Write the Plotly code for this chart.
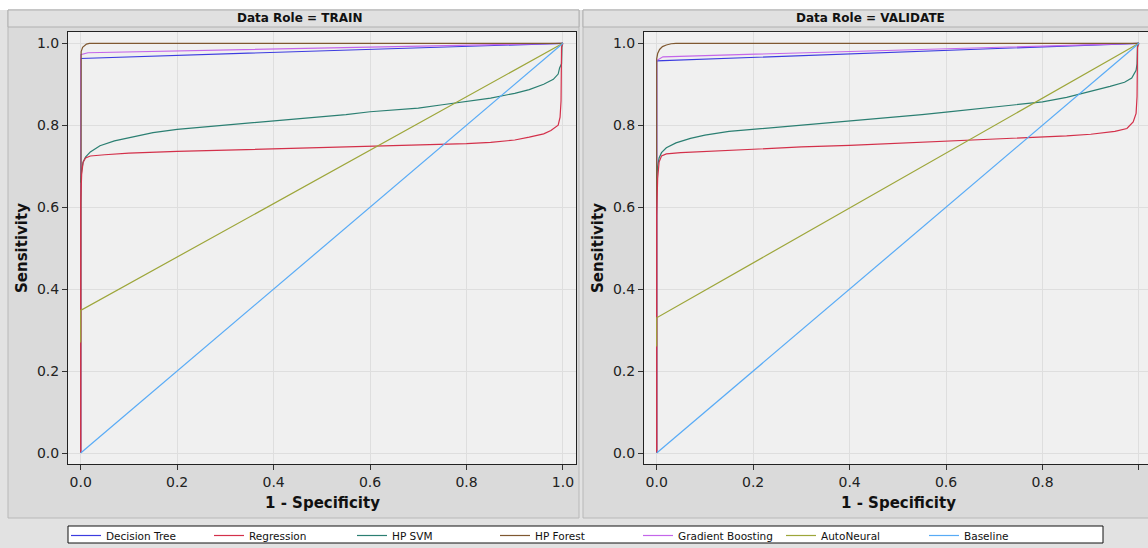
import plotly.graph_objects as go

W, H = 1148, 548

# ---------------- data ----------------
models = ["Decision Tree", "Regression", "HP SVM", "HP Forest",
          "Gradient Boosting", "AutoNeural", "Baseline"]
colors = {"Decision Tree": "#3c3ce0", "Regression": "#d3304a", "HP SVM": "#2b7f72",
          "HP Forest": "#7f5830", "Gradient Boosting": "#c466ea",
          "AutoNeural": "#9da63a", "Baseline": "#58abf6"}
roles = ["TRAIN", "VALIDATE"]

# TRAIN
dt_train_x = [0, 0, 1.0]
dt_train_y = [0, 0.963, 1.0]
reg_train_x = [0, 0, 0, 0.002, 0.005, 0.01, 0.02, 0.05, 0.1, 0.2, 0.3, 0.4, 0.5, 0.6, 0.7,
               0.8, 0.85, 0.9, 0.93, 0.96, 0.975, 0.985, 0.99, 0.994, 0.996, 0.997, 1.0]
reg_train_y = [0, 0.26, 0.61, 0.68, 0.71, 0.72, 0.725, 0.728, 0.732, 0.736, 0.739, 0.742, 0.745,
               0.748, 0.751, 0.755, 0.758, 0.764, 0.771, 0.779, 0.787, 0.795, 0.80, 0.82, 0.86, 0.99, 1.0]
svm_train_x = [0, 0.002, 0.005, 0.01, 0.02, 0.04, 0.07, 0.1, 0.15, 0.2, 0.25, 0.3, 0.35, 0.4, 0.45,
               0.5, 0.55, 0.6, 0.65, 0.7, 0.75, 0.8, 0.85, 0.9, 0.93, 0.96, 0.98, 0.99, 0.993,
               0.997, 0.998, 1.0]
svm_train_y = [0.66, 0.69, 0.71, 0.722, 0.735, 0.75, 0.762, 0.77, 0.782, 0.79, 0.795, 0.80, 0.805,
               0.81, 0.815, 0.82, 0.826, 0.833, 0.838, 0.842, 0.85, 0.858, 0.866, 0.878, 0.887,
               0.90, 0.912, 0.925, 0.94, 0.95, 1.0, 1.0]
rf_train_x = [0, 0, 0.001, 0.004, 0.008, 0.012, 0.018, 1.0]
rf_train_y = [0, 0.965, 0.98, 0.99, 0.995, 0.998, 1.0, 1.0]
gb_train_x = [0, 0, 0.015, 1.0]
gb_train_y = [0, 0.972, 0.977, 1.0]
an_train_x = [0, 0, 1.0]
an_train_y = [0.27, 0.348, 1.0]
base_x = [0, 1.0]
base_y = [0, 1.0]

# VALIDATE
dt_val_x = [0, 0, 1.0]
dt_val_y = [0, 0.957, 1.0]
reg_val_x = [0, 0, 0, 0.002, 0.005, 0.01, 0.02, 0.05, 0.1, 0.2, 0.3, 0.4, 0.5, 0.6, 0.7, 0.8,
             0.85, 0.9, 0.95, 0.975, 0.988, 0.994, 0.996, 0.997, 1.0]
reg_val_y = [0, 0.26, 0.58, 0.67, 0.71, 0.725, 0.73, 0.733, 0.736, 0.742, 0.747, 0.751, 0.756,
             0.76, 0.765, 0.771, 0.774, 0.778, 0.785, 0.792, 0.808, 0.829, 0.87, 0.99, 1.0]
svm_val_x = [0, 0.002, 0.005, 0.01, 0.02, 0.04, 0.07, 0.1, 0.15, 0.2, 0.25, 0.3, 0.35, 0.4, 0.45,
             0.5, 0.55, 0.6, 0.65, 0.7, 0.75, 0.8, 0.85, 0.9, 0.94, 0.97, 0.985, 0.994, 0.996,
             0.997, 1.0]
svm_val_y = [0.67, 0.70, 0.72, 0.733, 0.745, 0.757, 0.768, 0.776, 0.785, 0.79, 0.795, 0.80, 0.805,
             0.81, 0.815, 0.82, 0.826, 0.832, 0.838, 0.845, 0.85, 0.857, 0.868, 0.882, 0.895,
             0.905, 0.915, 0.934, 0.95, 1.0, 1.0]
rf_val_x = [0, 0, 0.002, 0.006, 0.012, 0.02, 0.03, 0.04, 1.0]
rf_val_y = [0, 0.962, 0.975, 0.985, 0.992, 0.996, 0.999, 1.0, 1.0]
gb_val_x = [0, 0, 0.013, 1.0]
gb_val_y = [0, 0.958, 0.967, 1.0]
an_val_x = [0, 0, 1.0]
an_val_y = [0.26, 0.33, 1.0]

series = {
    "TRAIN": {"Decision Tree": (dt_train_x, dt_train_y), "Regression": (reg_train_x, reg_train_y),
              "HP SVM": (svm_train_x, svm_train_y), "HP Forest": (rf_train_x, rf_train_y),
              "Gradient Boosting": (gb_train_x, gb_train_y), "AutoNeural": (an_train_x, an_train_y),
              "Baseline": (base_x, base_y)},
    "VALIDATE": {"Decision Tree": (dt_val_x, dt_val_y), "Regression": (reg_val_x, reg_val_y),
                 "HP SVM": (svm_val_x, svm_val_y), "HP Forest": (rf_val_x, rf_val_y),
                 "Gradient Boosting": (gb_val_x, gb_val_y), "AutoNeural": (an_val_x, an_val_y),
                 "Baseline": (base_x, base_y)},
}
draw_order = ["Decision Tree", "Gradient Boosting", "HP SVM", "HP Forest",
              "Regression", "AutoNeural", "Baseline"]
tick_vals = [0, 0.2, 0.4, 0.6, 0.8, 1.0]

FONT = "DejaVu Sans"
fig = go.Figure()
for i, role in enumerate(roles):
    ax = "" if i == 0 else "2"
    for m in draw_order:
        xs, ys = series[role][m]
        fig.add_trace(go.Scatter(
            x=xs, y=ys, mode="lines", name=m, legendgroup=m,
            legendrank=models.index(m) + 1, showlegend=(i == 0),
            line=dict(color=colors[m], width=1.2),
            xaxis="x" + ax, yaxis="y" + ax, hoverinfo="skip"))


def px(v):
    return v / W


def py(v):
    return 1 - v / H


axis_common = dict(tickvals=tick_vals, tickformat=".1f", ticks="outside", ticklen=5,
                   tickcolor="#333", showline=True, linecolor="#222", linewidth=1,
                   showgrid=True, gridcolor="#dedede", gridwidth=1, zeroline=False,
                   tickfont=dict(family=FONT, size=14, color="#222"))

fig.update_layout(
    width=W, height=H,
    margin=dict(l=0, r=0, t=0, b=0, autoexpand=False),
    paper_bgcolor="#e2e2e2", plot_bgcolor="#f0f0f0",
    font=dict(family=FONT, color="#111"),
    xaxis=dict(domain=[px(68), px(576)], range=[-0.0263, 1.027], anchor="y", mirror=True,
               **axis_common),
    yaxis=dict(domain=[py(464), py(32)], range=[-0.0268, 1.0276], anchor="x", mirror=True,
               **axis_common),
    xaxis2=dict(domain=[px(644), 1.0], range=[-0.0263, 1.0187], anchor="y2", mirror=True,
                **axis_common),
    yaxis2=dict(domain=[py(464), py(32)], range=[-0.0268, 1.0276], anchor="x2", mirror=False,
                **axis_common),
    legend=dict(orientation="h", x=px(66), y=py(521), xanchor="left", yanchor="top",
                bgcolor="rgba(0,0,0,0)", borderwidth=0,
                font=dict(family=FONT, size=10.5, color="#111"),
                entrywidth=98, entrywidthmode="pixels", traceorder="normal",
                itemwidth=30, tracegroupgap=0),
    showlegend=True,
)

shapes = []
# white top strip
shapes.append(dict(type="rect", xref="paper", yref="paper", x0=0, x1=1, y0=py(10), y1=1,
                   fillcolor="white", line=dict(width=0), layer="below"))
# panel cells
for (l, r) in [(8, 579), (583, 1160)]:
    shapes.append(dict(type="rect", xref="paper", yref="paper", x0=px(l), x1=px(r),
                       y0=py(518), y1=py(10), fillcolor="#dadada",
                       line=dict(color="#b8b8b8", width=1), layer="below"))
    shapes.append(dict(type="rect", xref="paper", yref="paper", x0=px(l), x1=px(r),
                       y0=py(27), y1=py(10), fillcolor="#e0e0e0",
                       line=dict(color="#b0b0b0", width=1), layer="below"))
# plot-area backgrounds
for (l, r) in [(68, 576), (644, 1149)]:
    shapes.append(dict(type="rect", xref="paper", yref="paper", x0=px(l), x1=px(r),
                       y0=py(464), y1=py(32), fillcolor="#f0f0f0",
                       line=dict(width=0), layer="below"))
# legend frame
shapes.append(dict(type="rect", xref="paper", yref="paper", x0=px(68), x1=px(1103),
                   y0=py(543), y1=py(526), fillcolor="white",
                   line=dict(color="#111", width=1), layer="below"))
fig.update_layout(shapes=shapes)

ann = []
for cx, role in [(299, "TRAIN"), (870, "VALIDATE")]:
    ann.append(dict(text="<b>Data Role = %s</b>" % role, x=px(cx), y=py(18.5), xref="paper",
                    yref="paper", showarrow=False, xanchor="center", yanchor="middle",
                    font=dict(family=FONT, size=12, color="#111")))
for cx in (22, 598):
    ann.append(dict(text="<b>Sensitivity</b>", x=px(cx), y=py(248), xref="paper", yref="paper",
                    showarrow=False, textangle=-90, xanchor="center", yanchor="middle",
                    font=dict(family=FONT, size=15, color="#111")))
for cx in (322, 898):
    ann.append(dict(text="<b>1 - Specificity</b>", x=px(cx), y=py(503), xref="paper",
                    yref="paper", showarrow=False, xanchor="center", yanchor="middle",
                    font=dict(family=FONT, size=15, color="#111")))
fig.update_layout(annotations=ann)

fig.write_html("out.html")
